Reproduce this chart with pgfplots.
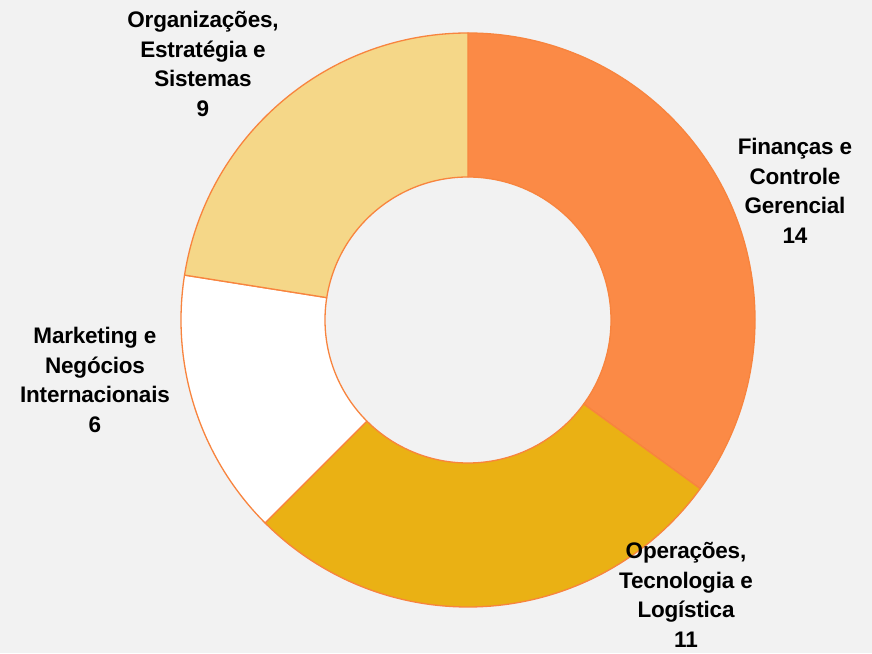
\documentclass[border=0pt]{standalone}
\usepackage{pgfplots}
\usepackage{pgfplotstable}
\pgfplotsset{compat=1.18}
\usepackage{fontspec}
\setmainfont{Liberation Sans}
\newfontfamily\lblfont[LetterSpace=-1]{Liberation Sans}
\definecolor{bg}{HTML}{F2F2F2}
\definecolor{cFin}{HTML}{FB8A46}
\definecolor{cOp}{HTML}{EAB114}
\definecolor{cMk}{HTML}{FFFFFF}
\definecolor{cOrg}{HTML}{F5D788}
\definecolor{edge}{HTML}{F8843E}

\pgfplotstableread[col sep=comma]{
area,value
Financas,14
Operacoes,11
Marketing,6
Organizacoes,9
}\donutdata

\pgfplotstablegetelem{0}{value}\of\donutdata \let\vA\pgfplotsretval
\pgfplotstablegetelem{1}{value}\of\donutdata \let\vB\pgfplotsretval
\pgfplotstablegetelem{2}{value}\of\donutdata \let\vC\pgfplotsretval
\pgfplotstablegetelem{3}{value}\of\donutdata \let\vD\pgfplotsretval
\pgfmathsetmacro\total{\vA+\vB+\vC+\vD}
\pgfmathsetmacro\aA{90}
\pgfmathsetmacro\aB{\aA-360*\vA/\total}
\pgfmathsetmacro\aC{\aB-360*\vB/\total}
\pgfmathsetmacro\aD{\aC-360*\vC/\total}
\pgfmathsetmacro\aE{\aD-360*\vD/\total}

\def\cx{468}
\def\cy{333}
\def\Ro{287}
\def\Ri{143}

\newcommand\sector[3]{%
  \filldraw[fill=#3, draw=edge, line width=1.3pt, line join=round]
    (axis cs:{\cx+\Ro*cos(#1)},{\cy+\Ro*sin(#1)})
    arc[start angle=#1, end angle=#2, radius=\Ro pt]
    -- (axis cs:{\cx+\Ri*cos(#2)},{\cy+\Ri*sin(#2)})
    arc[start angle=#2, end angle=#1, radius=\Ri pt]
    -- cycle;}

\begin{document}
\begin{tikzpicture}
\begin{axis}[
  x=1pt, y=1pt,
  xmin=0, xmax=872, ymin=0, ymax=653,
  hide axis, clip=false,
  scale only axis,
]
\fill[bg] (axis cs:0,0) rectangle (axis cs:872,653);
\sector{\aA}{\aB}{cFin}
\sector{\aB}{\aC}{cOp}
\sector{\aC}{\aD}{cMk}
\sector{\aD}{\aE}{cOrg}
\begin{scope}[every node/.style={align=center, font=\lblfont\bfseries\fontsize{22.5}{29.5}\selectfont, text=black, inner sep=0pt}]
\node at (axis cs:795,462) {Finanças e\\Controle\\Gerencial\\\vA};
\node at (axis cs:686,58) {Operações,\\Tecnologia e\\Logística\\\vB};
\node at (axis cs:95,273) {Marketing e\\Negócios\\Internacionais\\\vC};
\node at (axis cs:203,589) {Organizações,\\Estratégia e\\Sistemas\\\vD};
\end{scope}
\end{axis}
\end{tikzpicture}
\end{document}
